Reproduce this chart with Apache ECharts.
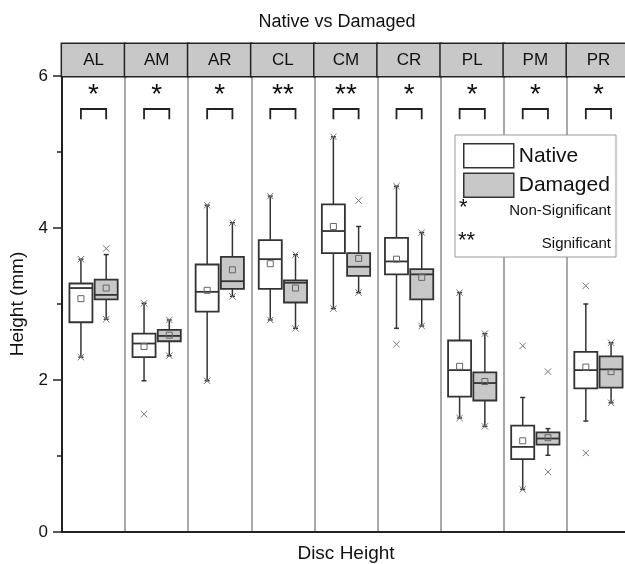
<!DOCTYPE html>
<html>
<head>
<meta charset="utf-8">
<script src="https://cdn.jsdelivr.net/npm/echarts@6/dist/echarts.min.js"></script>
<style>
  html, body { margin: 0; padding: 0; background: #fff; }
  #chart { width: 625px; height: 564px; }
</style>
</head>
<body>
<div id="chart"></div>
<script>
// disc regions
const regions = ['AL', 'AM', 'AR', 'CL', 'CM', 'CR', 'PL', 'PM', 'PR']
const sigLabels = ['*', '*', '*', '**', '**', '*', '*', '*', '*']

// box stats: [low whisker, Q1, median, Q3, high whisker]
const nativeBox = [
  [2.30, 2.76, 3.21, 3.27, 3.59],
  [1.99, 2.30, 2.48, 2.61, 3.01],
  [1.99, 2.90, 3.16, 3.52, 4.30],
  [2.79, 3.20, 3.59, 3.84, 4.42],
  [2.94, 3.67, 3.96, 4.31, 5.20],
  [2.68, 3.39, 3.56, 3.87, 4.55],
  [1.50, 1.78, 2.13, 2.52, 3.15],
  [0.56, 0.96, 1.12, 1.40, 1.77],
  [1.46, 1.89, 2.13, 2.37, 3.00]
]
const nativeMean = [3.07, 2.44, 3.18, 3.53, 4.02, 3.59, 2.18, 1.20, 2.17]
// min/max and outlier crosses: [region index, value]
const nativeMarks = [
  [0, 3.59], [0, 2.30], [1, 3.01], [1, 1.55], [2, 4.30], [2, 1.99],
  [3, 4.42], [3, 2.79], [4, 5.20], [4, 2.94], [5, 4.55], [5, 2.47],
  [6, 3.15], [6, 1.50], [7, 2.45], [7, 0.56], [8, 3.24], [8, 1.04]
]

const damagedBox = [
  [2.80, 3.06, 3.12, 3.32, 3.65],
  [2.32, 2.51, 2.58, 2.66, 2.79],
  [3.10, 3.20, 3.30, 3.62, 4.07],
  [2.68, 3.02, 3.28, 3.31, 3.65],
  [3.15, 3.37, 3.49, 3.67, 4.02],
  [2.71, 3.06, 3.39, 3.46, 3.94],
  [1.39, 1.73, 1.96, 2.10, 2.61],
  [1.01, 1.15, 1.23, 1.31, 1.36],
  [1.70, 1.90, 2.14, 2.31, 2.49]
]
const damagedMean = [3.21, 2.59, 3.45, 3.21, 3.60, 3.35, 1.98, 1.24, 2.11]
const damagedMarks = [
  [0, 3.73], [0, 2.80], [1, 2.79], [1, 2.32], [2, 4.07], [2, 3.10],
  [3, 3.65], [3, 2.68], [4, 4.36], [4, 3.15], [5, 3.94], [5, 2.71],
  [6, 2.61], [6, 1.39], [7, 2.11], [7, 0.79], [8, 2.49], [8, 1.70]
]

const FONT = '"Liberation Sans", Arial, sans-serif'
const NATIVE_OFF = -0.2
const DAMAGED_OFF = 0.2
const BOX_W = 0.365

const boxRows = (box, mean) => box.map((b, i) => [i, ...b, mean[i]])

// box + whiskers + median + mean square
const makeBoxRender = (offset, fill) => (params, api) => {
  const i = api.value(0)
  const band = api.size([1, 0])[0]
  const cx = api.coord([i, 0])[0] + band * offset
  const y = k => api.coord([i, api.value(k)])[1]
  const w = band * BOX_W
  const stroke = { stroke: '#333', lineWidth: 1.5 }
  return {
    type: 'group',
    children: [
      { type: 'line', shape: { x1: cx, y1: y(1), x2: cx, y2: y(2) }, style: stroke },
      { type: 'line', shape: { x1: cx, y1: y(4), x2: cx, y2: y(5) }, style: stroke },
      { type: 'line', shape: { x1: cx - 2.5, y1: y(1), x2: cx + 2.5, y2: y(1) }, style: stroke },
      { type: 'line', shape: { x1: cx - 2.5, y1: y(5), x2: cx + 2.5, y2: y(5) }, style: stroke },
      { type: 'rect', shape: { x: cx - w / 2, y: y(4), width: w, height: y(2) - y(4) },
        style: { fill: fill, stroke: '#333', lineWidth: 1.8 } },
      { type: 'line', shape: { x1: cx - w / 2, y1: y(3), x2: cx + w / 2, y2: y(3) }, style: { stroke: '#333', lineWidth: 1.8 } },
      { type: 'rect', shape: { x: cx - 3, y: y(6) - 3, width: 6, height: 6 },
        style: { fill: 'none', stroke: '#666', lineWidth: 1 } }
    ]
  }
}

// small x crosses
const makeMarkRender = (offset) => (params, api) => {
  const i = api.value(0)
  const band = api.size([1, 0])[0]
  const cx = api.coord([i, 0])[0] + band * offset
  const cy = api.coord([i, api.value(1)])[1]
  const s = 3.2
  const st = { stroke: '#777', lineWidth: 1 }
  return {
    type: 'group',
    children: [
      { type: 'line', shape: { x1: cx - s, y1: cy - s, x2: cx + s, y2: cy + s }, style: st },
      { type: 'line', shape: { x1: cx - s, y1: cy + s, x2: cx + s, y2: cy - s }, style: st }
    ]
  }
}

// significance bracket and stars
const renderSig = (params, api) => {
  const i = api.value(0)
  const band = api.size([1, 0])[0]
  const c = api.coord([i, 0])[0]
  const x1 = c + band * NATIVE_OFF
  const x2 = c + band * DAMAGED_OFF
  const yb = api.coord([i, 5.43])[1]
  const yt = api.coord([i, 5.566])[1]
  const ys = api.coord([i, 5.75])[1]
  return {
    type: 'group',
    children: [
      { type: 'polyline', shape: { points: [[x1, yb], [x1, yt], [x2, yt], [x2, yb]] },
        style: { stroke: '#222', lineWidth: 1.8, fill: 'none' } },
      { type: 'text', x: c, y: ys,
        style: { text: sigLabels[params.dataIndex], fill: '#111', font: '28px ' + FONT, align: 'center', verticalAlign: 'middle' } }
    ]
  }
}

const chart = echarts.init(document.getElementById('chart'))

const option = {
  animation: false,
  title: {
    text: 'Native vs Damaged',
    left: 332,
    top: 8,
    textAlign: 'center',
    textStyle: { fontFamily: FONT, fontSize: 18, fontWeight: 'normal', color: '#111' }
  },
  legend: {
    orient: 'vertical',
    left: 458,
    top: 138,
    z: 20,
    selectedMode: false,
    icon: 'rect',
    itemWidth: 50,
    itemHeight: 24,
    itemGap: 4,
    textStyle: { fontFamily: FONT, fontSize: 21, color: '#111' },
    data: [
      { name: 'Native', itemStyle: { color: '#fff', borderColor: '#333', borderWidth: 1.5 } },
      { name: 'Damaged', itemStyle: { color: '#c8c8c8', borderColor: '#333', borderWidth: 1.5 } }
    ]
  },
  graphic: [
    { type: 'rect', z: 10, shape: { x: 455, y: 135, width: 161, height: 122 },
      style: { fill: '#fff', stroke: '#999', lineWidth: 1 } },
    { type: 'text', z: 11, x: 459, y: 207.5,
      style: { text: '*', font: '22px ' + FONT, fill: '#111', verticalAlign: 'middle' } },
    { type: 'text', z: 11, x: 611, y: 211,
      style: { text: 'Non-Significant', font: '15px ' + FONT, fill: '#111', align: 'right', verticalAlign: 'middle' } },
    { type: 'text', z: 11, x: 458, y: 241,
      style: { text: '**', font: '22px ' + FONT, fill: '#111', verticalAlign: 'middle' } },
    { type: 'text', z: 11, x: 611, y: 244,
      style: { text: 'Significant', font: '15px ' + FONT, fill: '#111', align: 'right', verticalAlign: 'middle' } }
  ],
  grid: { left: 62, top: 76, width: 568, height: 456, outerBoundsMode: 'none', containLabel: false },
  xAxis: [
    {
      type: 'category',
      data: regions,
      position: 'bottom',
      name: 'Disc Height',
      nameLocation: 'middle',
      nameGap: 12,
      nameTextStyle: { fontFamily: FONT, fontSize: 19, color: '#111' },
      axisLine: { lineStyle: { color: '#222', width: 2 } },
      axisTick: { show: false },
      axisLabel: { show: false },
      splitLine: { show: true, interval: 0, lineStyle: { color: '#8c8c8c', width: 1.5 } }
    },
    {
      type: 'category',
      data: regions,
      position: 'top',
      axisLine: { lineStyle: { color: '#222', width: 2 } },
      axisTick: { show: false },
      axisLabel: {
        interval: 0,
        margin: 0,
        fontFamily: FONT,
        fontSize: 17,
        color: '#111',
        backgroundColor: '#c8c8c8',
        borderColor: '#222',
        borderWidth: 1.5,
        width: 63,
        height: 32,
        lineHeight: 32,
        align: 'center'
      },
      splitLine: { show: false }
    }
  ],
  yAxis: {
    type: 'value',
    min: 0,
    max: 6,
    interval: 2,
    name: 'Height (mm)',
    nameLocation: 'middle',
    nameGap: 35,
    nameTextStyle: { fontFamily: FONT, fontSize: 19, color: '#111' },
    axisLine: { show: true, lineStyle: { color: '#222', width: 2 } },
    axisTick: { show: true, inside: false, length: 9, lineStyle: { color: '#222', width: 1.5 } },
    minorTick: { show: true, splitNumber: 2, length: 5, lineStyle: { color: '#222', width: 1.5 } },
    axisLabel: { fontFamily: FONT, fontSize: 17, color: '#111', margin: 14 },
    splitLine: { show: false }
  },
  series: [
    {
      name: 'Native',
      type: 'custom',
      xAxisIndex: 0,
      itemStyle: { color: '#fff', borderColor: '#333' },
      renderItem: makeBoxRender(NATIVE_OFF, '#fff'),
      encode: { x: 0, y: [1, 2, 3, 4, 5] },
      data: boxRows(nativeBox, nativeMean),
      z: 3
    },
    {
      name: 'Damaged',
      type: 'custom',
      xAxisIndex: 0,
      itemStyle: { color: '#c8c8c8', borderColor: '#333' },
      renderItem: makeBoxRender(DAMAGED_OFF, '#c8c8c8'),
      encode: { x: 0, y: [1, 2, 3, 4, 5] },
      data: boxRows(damagedBox, damagedMean),
      z: 3
    },
    {
      name: 'Native marks',
      type: 'custom',
      xAxisIndex: 0,
      renderItem: makeMarkRender(NATIVE_OFF),
      encode: { x: 0, y: 1 },
      data: nativeMarks,
      z: 4
    },
    {
      name: 'Damaged marks',
      type: 'custom',
      xAxisIndex: 0,
      renderItem: makeMarkRender(DAMAGED_OFF),
      encode: { x: 0, y: 1 },
      data: damagedMarks,
      z: 4
    },
    {
      name: 'Significance',
      type: 'custom',
      xAxisIndex: 0,
      renderItem: renderSig,
      encode: { x: 0 },
      data: regions.map((r, i) => [i]),
      z: 4
    }
  ]
}

chart.setOption(option)
</script>
</body>
</html>
